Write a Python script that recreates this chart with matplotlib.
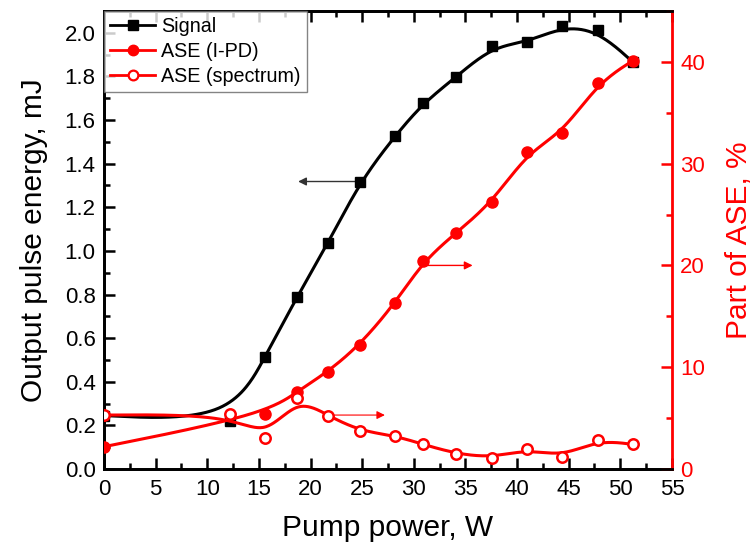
import numpy as np
import matplotlib
matplotlib.use("Agg")
import matplotlib.pyplot as plt
from matplotlib.lines import Line2D
from matplotlib.ticker import MultipleLocator

plt.rcParams['font.family'] = ['Liberation Sans', 'DejaVu Sans']

# ---- data ----
signal_x = [0, 12.2, 15.6, 18.7, 21.7, 24.8, 28.2, 30.9, 34.1, 37.6, 41.0, 44.4, 47.8, 51.2]
signal_y = [0.245, 0.218, 0.515, 0.79, 1.035, 1.318, 1.528, 1.677, 1.797, 1.937, 1.956, 2.029, 2.011, 1.866]

asepd_x = [0, 15.6, 18.7, 21.7, 24.8, 28.2, 30.9, 34.1, 37.6, 41.0, 44.4, 47.8, 51.2]
asepd_y = [2.19, 5.37, 7.6, 9.56, 12.2, 16.3, 20.4, 23.2, 26.2, 31.1, 33.0, 37.9, 40.1]

asesp_x = [0, 12.2, 15.6, 18.7, 21.7, 24.8, 28.2, 30.9, 34.1, 37.6, 41.0, 44.4, 47.8, 51.2]
asesp_y = [5.3, 5.37, 3.08, 7.0, 5.24, 3.73, 3.27, 2.42, 1.5, 1.11, 1.96, 1.21, 2.85, 2.42]

x_ticks = [0, 5, 10, 15, 20, 25, 30, 35, 40, 45, 50, 55]
left_ticks = [0.0, 0.2, 0.4, 0.6, 0.8, 1.0, 1.2, 1.4, 1.6, 1.8, 2.0]
right_ticks = [0, 10, 20, 30, 40]

RED = '#ff0000'


def bspline(xs, ys, n=40):
    """Uniform cubic B-spline using data points as control points (clamped ends)."""
    P = np.column_stack([xs, ys]).astype(float)
    Q = np.vstack([P[0], P[0], P, P[-1], P[-1]])
    t = np.linspace(0, 1, n)
    b0 = (1 - t) ** 3 / 6
    b1 = (3 * t ** 3 - 6 * t ** 2 + 4) / 6
    b2 = (-3 * t ** 3 + 3 * t ** 2 + 3 * t + 1) / 6
    b3 = t ** 3 / 6
    out = []
    for i in range(len(Q) - 3):
        seg = (np.outer(b0, Q[i]) + np.outer(b1, Q[i + 1]) +
               np.outer(b2, Q[i + 2]) + np.outer(b3, Q[i + 3]))
        out.append(seg)
    c = np.vstack(out)
    return c[:, 0], c[:, 1]


fig = plt.figure(figsize=(7.55, 5.46), dpi=100)
ax = fig.add_axes([0.1377, 0.141, 0.7523, 0.839])
ax2 = ax.twinx()

# Signal (left axis)
cx, cy = bspline(signal_x, signal_y)
ax.plot(cx, cy, color='black', lw=2.2, zorder=3)
ax.plot(signal_x, signal_y, ls='none', marker='s', ms=7.5, color='black', zorder=4)

# ASE (right axis)
cx, cy = bspline(asepd_x, asepd_y)
ax2.plot(cx, cy, color=RED, lw=2.2, zorder=3)
ax2.plot(asepd_x, asepd_y, ls='none', marker='o', ms=8, color=RED, zorder=4)

cx, cy = bspline(asesp_x, asesp_y)
ax2.plot(cx, cy, color=RED, lw=2.2, zorder=3)
ax2.plot(asesp_x, asesp_y, ls='none', marker='o', ms=7.5, mfc='white', mec=RED,
         mew=1.8, zorder=4)

# arrows
ax.annotate('', xy=(18.8, 1.318), xytext=(24.6, 1.318),
            arrowprops=dict(arrowstyle='-|>', color='#333333', lw=1.0,
                            mutation_scale=12, shrinkA=0, shrinkB=0))
ax2.annotate('', xy=(35.7, 20.0), xytext=(30.7, 20.0),
             arrowprops=dict(arrowstyle='-|>', color=RED, lw=1.0,
                             mutation_scale=12, shrinkA=0, shrinkB=0))
ax2.annotate('', xy=(27.2, 5.3), xytext=(21.7, 5.3),
             arrowprops=dict(arrowstyle='-|>', color=RED, lw=0.8,
                             mutation_scale=12, shrinkA=0, shrinkB=0))

# axes limits & ticks
ax.set_xlim(0, 55)
ax.set_ylim(0, 2.1)
ax2.set_ylim(0, 45)
ax.set_xticks(x_ticks)
ax.set_xticklabels([str(v) for v in x_ticks])
ax.xaxis.set_minor_locator(MultipleLocator(2.5))
ax.set_yticks(left_ticks)
ax.set_yticklabels([f'{v:.1f}' for v in left_ticks])
ax.yaxis.set_minor_locator(MultipleLocator(0.1))
ax2.set_yticks(right_ticks)
ax2.set_yticklabels([str(v) for v in right_ticks])
ax2.yaxis.set_minor_locator(MultipleLocator(5))

ax.tick_params(axis='x', which='both', direction='in', top=True, labelsize=16,
               width=1.8, pad=7)
ax.tick_params(axis='x', which='major', length=8)
ax.tick_params(axis='x', which='minor', length=4)
ax.tick_params(axis='y', which='both', direction='in', labelsize=16, width=1.8, pad=6)
ax.tick_params(axis='y', which='major', length=8)
ax.tick_params(axis='y', which='minor', length=4)
ax2.tick_params(axis='y', which='both', direction='in', labelsize=16, width=1.8,
                colors=RED, pad=6)
ax2.tick_params(axis='y', which='major', length=8)
ax2.tick_params(axis='y', which='minor', length=4)

for s in ['left', 'bottom', 'top']:
    ax.spines[s].set_linewidth(2)
    ax2.spines[s].set_linewidth(2)
ax.spines['right'].set_visible(False)
ax2.spines['right'].set_linewidth(2)
ax2.spines['right'].set_color(RED)

ax.set_xlabel('Pump power, W', fontsize=21.5, labelpad=10)
ax.set_ylabel('Output pulse energy, mJ', fontsize=21.5, labelpad=12)
ax2.set_ylabel('Part of ASE, %', fontsize=21.5, color=RED, labelpad=14)

handles = [
    Line2D([], [], color='black', lw=2, marker='s', ms=7),
    Line2D([], [], color=RED, lw=2, marker='o', ms=7.5),
    Line2D([], [], color=RED, lw=2, marker='o', ms=7, mfc='white', mec=RED, mew=1.6),
]
leg = ax2.legend(handles, ['Signal', 'ASE (I-PD)', 'ASE (spectrum)'],
                 loc='upper left', bbox_to_anchor=(0, 1), borderaxespad=0,
                 fontsize=14.2, frameon=True, fancybox=False, edgecolor='#666666',
                 handlelength=2.3, handletextpad=0.3, borderpad=0.3,
                 labelspacing=0.3)
leg.get_frame().set_linewidth(1)

fig.savefig('out.png', dpi=100)
